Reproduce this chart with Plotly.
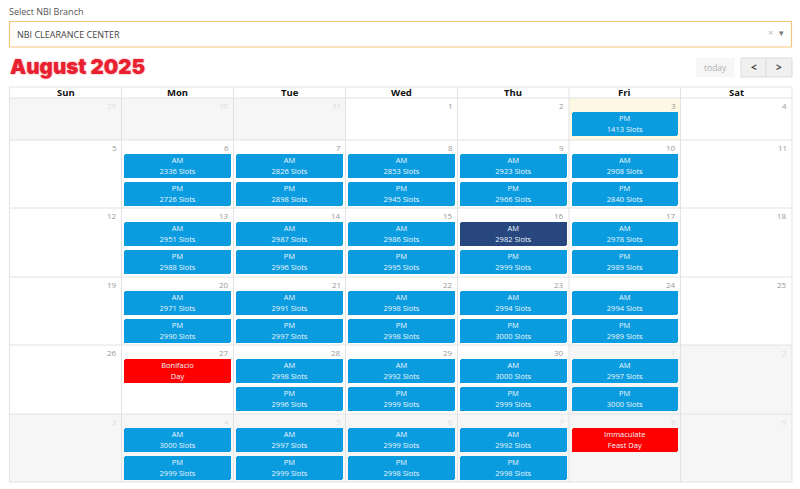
"""NBI appointment calendar, August 2025."""

import plotly.graph_objects as go

# data
weekdays = ["Sun", "Mon", "Tue", "Wed", "Thu", "Fri", "Sat"]
day_numbers = [
    [29, 30, 31, 1, 2, 3, 4],
    [5, 6, 7, 8, 9, 10, 11],
    [12, 13, 14, 15, 16, 17, 18],
    [19, 20, 21, 22, 23, 24, 25],
    [26, 27, 28, 29, 30, 1, 2],
    [3, 4, 5, 6, 7, 8, 9],
]
# Mon..Fri per week, None = no session that day
am_slots = [
    [None, None, None, None, None],
    [2336, 2826, 2853, 2923, 2908],
    [2951, 2987, 2986, 2982, 2978],
    [2971, 2991, 2998, 2994, 2994],
    [None, 2998, 2992, 3000, 2997],
    [3000, 2997, 2999, 2992, None],
]
pm_slots = [
    [None, None, None, None, 1413],
    [2726, 2898, 2945, 2966, 2840],
    [2988, 2996, 2995, 2999, 2989],
    [2990, 2997, 2998, 3000, 2989],
    [None, 2996, 2999, 2999, 3000],
    [2999, 2999, 2998, 2998, None],
]
holidays = {(4, 1): ("Bonifacio", "Day"), (5, 5): ("Immaculate", "Feast Day")}
selected_am = (2, 4)
today_cell = (0, 5)

# page layout in screen pixels
COL_EDGES = [9.5, 121.5, 233.5, 345.5, 457.5, 569, 680.5, 792]
ROW_EDGES = [98, 140, 208, 277, 345, 414, 482]
HEAD_TOP = 87
FIRST_BAR = 14
SECOND_BAR = 42
BAR_H = 24

BLUE = "#0b9bdf"
DARK = "#27477e"
RED = "#ff0000"
LINE = "#e2e2e2"
FONT = "Open Sans"


def is_other_month(row, col):
    return (row == 0 and col < 3) or (row == 4 and col > 4) or row == 5


def col_mid(col):
    return (COL_EDGES[col] + COL_EDGES[col + 1]) / 2


fig = go.Figure()

# cell backgrounds
for color, test in (
    ("#f6f6f6", is_other_month),
    ("#fcf8e3", lambda r, c: (r, c) == today_cell),
):
    cells = [(r, c) for r in range(6) for c in range(7) if test(r, c)]
    fig.add_trace(go.Bar(
        x=[col_mid(c) for r, c in cells],
        y=[ROW_EDGES[r + 1] - ROW_EDGES[r] for r, c in cells],
        base=[ROW_EDGES[r] for r, c in cells],
        width=[COL_EDGES[c + 1] - COL_EDGES[c] for r, c in cells],
        marker=dict(color=color, line=dict(width=0)),
        hoverinfo="skip",
    ))

# collect the event bars and their two text lines
bars = {BLUE: [], DARK: [], RED: []}
labels = []
for r in range(6):
    for i in range(5):
        col = i + 1
        top = ROW_EDGES[r]
        if (r, col) in holidays:
            bars[RED].append((col, top + FIRST_BAR))
            labels.append((col, top + FIRST_BAR, *holidays[(r, col)]))
            continue
        am, pm = am_slots[r][i], pm_slots[r][i]
        offset = FIRST_BAR
        if am is not None:
            color = DARK if (r, col) == selected_am else BLUE
            bars[color].append((col, top + offset))
            labels.append((col, top + offset, "AM", f"{am} Slots"))
            offset = SECOND_BAR
        if pm is not None:
            bars[BLUE].append((col, top + offset))
            labels.append((col, top + offset, "PM", f"{pm} Slots"))

for color, items in bars.items():
    fig.add_trace(go.Bar(
        x=[col_mid(c) for c, t in items],
        y=[BAR_H] * len(items),
        base=[t for c, t in items],
        width=[COL_EDGES[c + 1] - COL_EDGES[c] - 5 for c, t in items],
        marker=dict(color=color, line=dict(width=0), cornerradius=2),
        hoverinfo="skip",
    ))

text_x, text_y, text_s = [], [], []
for col, top, first, second in labels:
    text_x += [col_mid(col), col_mid(col)]
    text_y += [top + 7, top + 18.5]
    text_s += [first, second]
fig.add_trace(go.Scatter(
    x=text_x, y=text_y, text=text_s, mode="text",
    textfont=dict(family=FONT, size=7.5, color="#eaf6fd"),
    hoverinfo="skip",
))

# grid lines
grid_x, grid_y = [], []
for x in COL_EDGES:
    grid_x += [x, x, None]
    grid_y += [HEAD_TOP, ROW_EDGES[-1], None]
for y in [HEAD_TOP] + ROW_EDGES:
    grid_x += [COL_EDGES[0], COL_EDGES[-1], None]
    grid_y += [y, y, None]
fig.add_trace(go.Scatter(
    x=grid_x, y=grid_y, mode="lines",
    line=dict(color=LINE, width=1), hoverinfo="skip",
))


def label(x, y, text, size=9, color="#444", anchor="center", **font):
    fig.add_annotation(
        x=x, y=y, text=text, showarrow=False, xanchor=anchor, yanchor="middle",
        font=dict(family=font.pop("family", FONT), size=size, color=color, **font),
    )


for c, name in enumerate(weekdays):
    label(col_mid(c), 92.5, name, size=9.5, color="#111", weight=700)

for r, week in enumerate(day_numbers):
    for c, day in enumerate(week):
        faded = is_other_month(r, c)
        label(COL_EDGES[c + 1] - 3, ROW_EDGES[r] + 7, str(day), size=8,
              color="#dddddd" if faded else "#999999", anchor="right")

# branch selector
label(7, 11.5, "Select NBI Branch", size=9, color="#555", anchor="left")
fig.add_shape(type="rect", x0=9.5, x1=791.5, y0=21.5, y1=47,
              line=dict(color="#f3c67c", width=1.2), fillcolor="white", layer="below")
label(15, 34, "NBI CLEARANCE CENTER", size=9, color="#444", anchor="left")
label(770, 32, "×", size=9, color="#b5b5b5")
label(781, 32, "▾", size=9, color="#777")

# month title and toolbar
label(8, 66.5, "August 2025", size=20.5, color="#e8202f", anchor="left",
      family="Inter", weight=900, shadow="0px 0px 2px rgba(232,32,47,0.55)")
fig.add_shape(type="rect", x0=696, x1=734.5, y0=58, y1=77,
              line_width=0, fillcolor="#f6f6f6", layer="below")
label(715, 67.5, "today", size=8.5, color="#b0b0b0")
fig.add_shape(type="rect", x0=741, x1=766, y0=58, y1=77,
              line=dict(color="#dddddd", width=1), fillcolor="#f0f0f0", layer="below")
fig.add_shape(type="rect", x0=766, x1=792, y0=58, y1=77,
              line=dict(color="#dddddd", width=1), fillcolor="#f0f0f0", layer="below")
label(753.5, 66.5, "<", size=10, color="#444", weight=700)
label(779, 66.5, ">", size=10, color="#444", weight=700)

fig.update_layout(
    width=800, height=489,
    margin=dict(l=0, r=0, t=0, b=0),
    paper_bgcolor="white", plot_bgcolor="white",
    showlegend=False, barmode="overlay", bargap=0,
)
fig.update_xaxes(range=[0, 800], visible=False, fixedrange=True)
fig.update_yaxes(range=[489, 0], visible=False, fixedrange=True)

# the browser's default body margin would push the fixed-size plot off the window
fig.write_html("out.html", config={"displayModeBar": False},
               post_script="document.body.style.margin='0';")
